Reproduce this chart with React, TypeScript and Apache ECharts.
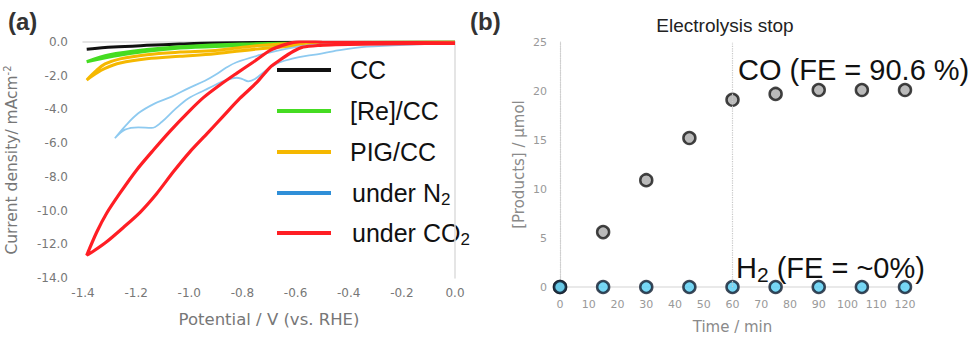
import React, { useEffect, useRef } from "react";
import * as echarts from "echarts";

type Pt = [number, number];

// ---------- Panel (a): cyclic voltammograms (V vs. RHE, mA cm^-2) ----------
const CC_CURVE: Pt[] = [
  [0, 0], [-0.6, -0.02], [-0.9, -0.06], [-1.035, -0.12], [-1.16, -0.2], [-1.286, -0.3], [-1.386, -0.43],
];

const RE_CC_CURVE: Pt[] = [
  [0, -0.02], [-0.4, -0.1], [-0.7, -0.18], [-0.9, -0.26], [-1.035, -0.36], [-1.16, -0.55], [-1.286, -0.84], [-1.386, -1.17],
  [-1.3, -0.76], [-1.16, -0.45], [-1.035, -0.28], [-0.8, -0.12], [-0.5, -0.04], [0, 0],
];

const PIG_CC_CURVE: Pt[] = [
  [0, -0.03], [-0.3, -0.08], [-0.55, -0.2], [-0.734, -0.4], [-0.903, -0.7], [-1.035, -0.85], [-1.16, -1.0], [-1.26, -1.25],
  [-1.317, -1.56], [-1.35, -1.85], [-1.386, -2.25],
  [-1.35, -1.7], [-1.317, -1.3], [-1.26, -1.0], [-1.16, -0.75], [-1.035, -0.6], [-0.903, -0.5], [-0.734, -0.2], [-0.55, -0.06], [0, 0],
];

const N2_CURVE: Pt[] = [
  [0, -0.08], [-0.144, -0.14], [-0.332, -0.28], [-0.459, -0.55], [-0.508, -0.7], [-0.56, -0.82], [-0.608, -0.97],
  [-0.659, -1.2], [-0.709, -1.66], [-0.753, -2.2], [-0.778, -2.33], [-0.8, -2.2], [-0.822, -2.12], [-0.859, -2.25],
  [-0.903, -2.55], [-0.941, -2.85], [-1.004, -3.35], [-1.054, -4.0], [-1.104, -4.75], [-1.142, -5.1], [-1.192, -5.06],
  [-1.242, -5.2], [-1.28, -5.71],
  [-1.242, -5.0], [-1.192, -4.23], [-1.129, -3.64], [-1.066, -3.24], [-1.004, -2.75], [-0.941, -2.3], [-0.903, -1.96],
  [-0.859, -1.5], [-0.822, -1.2], [-0.734, -0.77], [-0.671, -0.52], [-0.6, -0.3], [-0.546, -0.18], [-0.4, -0.1],
  [-0.2, -0.06], [0, -0.04],
];

const CO2_CURVE: Pt[] = [
  [0, -0.08], [-0.2, -0.1], [-0.35, -0.13], [-0.45, -0.16], [-0.508, -0.2], [-0.571, -0.3], [-0.608, -0.55],
  [-0.659, -1.07], [-0.696, -1.5], [-0.746, -2.4], [-0.81, -3.35], [-0.872, -4.4], [-0.934, -5.45], [-0.997, -6.5],
  [-1.06, -7.7], [-1.123, -9.0], [-1.185, -10.1], [-1.248, -11.0], [-1.311, -11.85], [-1.36, -12.4], [-1.386, -12.65],
  [-1.349, -11.3], [-1.311, -10.16], [-1.261, -8.97], [-1.198, -7.59], [-1.135, -6.41],
  [-1.073, -5.3], [-1.0, -4.1], [-0.947, -3.3], [-0.885, -2.55], [-0.822, -1.86], [-0.76, -1.2], [-0.696, -0.5],
  [-0.65, -0.2], [-0.608, -0.02], [-0.56, 0.04], [-0.5, 0.0], [-0.3, -0.03], [0, -0.05],
];

const LEGEND_LABELS = ["CC", "[Re]/CC", "PIG/CC", "under N{sub|2}", "under CO{sub|2}"];
const SERIES_NAMES = ["CC", "[Re]/CC", "PIG/CC", "under N2", "under CO2"];

// ---------- Panel (b): products vs time ----------
const TIME_MIN = [0, 15, 30, 45, 60, 75, 90, 105, 120];
const CO_UMOL = [0, 5.6, 10.9, 15.2, 19.1, 19.7, 20.1, 20.1, 20.1];
const H2_UMOL = [0, 0, 0, 0, 0, 0, 0, 0, 0];
const STOP_TIME = 60;

const CURVES = [CC_CURVE, RE_CC_CURVE, PIG_CC_CURVE, N2_CURVE, CO2_CURVE];
const CURVE_COLORS = ["#111111", "#45dc22", "#f5b800", "#8ecaf0", "#ff1e24"];
const LEGEND_COLORS = ["#111111", "#45dc22", "#f5b800", "#2f8fd8", "#ff1e24"];
const CURVE_WIDTHS = [3, 3, 3, 1.8, 3.2];
const CURVE_SMOOTH = [0.35, 0.35, 0.35, 0.35, 0.25];

const BLACK_FONT = "'Liberation Sans', Arial, sans-serif";
const GRAY_FONT = "'DejaVu Sans', sans-serif";

function fmt1(v: number) {
  return Math.abs(v) < 1e-9 ? "0.0" : v.toFixed(1);
}

export default function App() {
  const ref = useRef<HTMLDivElement>(null);

  useEffect(() => {
    const chart = echarts.init(ref.current!, null, { renderer: "svg" });

    const legendRowY = [70, 111, 152, 193, 233];
    const legendGraphics: any[] = [];
    LEGEND_LABELS.forEach((label, i) => {
      legendGraphics.push({
        type: "line",
        shape: { x1: 277, y1: legendRowY[i], x2: 331, y2: legendRowY[i] },
        style: { stroke: LEGEND_COLORS[i], lineWidth: 4 },
      });
      legendGraphics.push({
        type: "text",
        x: i >= 3 ? 352 : 350,
        y: legendRowY[i],
        style: {
          text: label,
          fill: "#111",
          fontSize: 25,
          fontFamily: BLACK_FONT,
          lineHeight: 30,
          verticalAlign: "middle",
          align: "left",
          rich: {
            sub: { fontSize: 17, lineHeight: 16, verticalAlign: "bottom", fontFamily: BLACK_FONT, fill: "#111" },
          },
        },
      });
    });

    const option: any = {
      animation: false,
      textStyle: { fontFamily: BLACK_FONT },
      grid: [
        { left: 83, top: 42, width: 372, height: 236 },
        { left: 560, top: 42, width: 345, height: 245 },
      ],
      xAxis: [
        {
          gridIndex: 0,
          type: "value",
          min: -1.4,
          max: 0,
          interval: 0.2,
          name: "Potential / V (vs. RHE)",
          nameLocation: "middle",
          nameGap: 33,
          nameTextStyle: { fontFamily: GRAY_FONT, fontSize: 16.5, color: "#777" },
          axisLine: { lineStyle: { color: "#dcdcdc", width: 1.5 } },
          axisTick: { show: false },
          splitLine: { show: false },
          axisLabel: { formatter: fmt1, color: "#777", fontFamily: GRAY_FONT, fontSize: 12, margin: 9 },
        },
        {
          gridIndex: 1,
          type: "value",
          min: 0,
          max: 120,
          interval: 10,
          name: "Time / min",
          nameLocation: "middle",
          nameGap: 32,
          nameTextStyle: { fontFamily: GRAY_FONT, fontSize: 15, color: "#8a8a8a" },
          axisLine: { lineStyle: { color: "#e2e2e2", width: 1.5 } },
          axisTick: { show: false },
          splitLine: { show: false },
          axisLabel: { color: "#999", fontFamily: GRAY_FONT, fontSize: 11, margin: 12 },
        },
      ],
      yAxis: [
        {
          gridIndex: 0,
          type: "value",
          min: -14,
          max: 0,
          interval: 2,
          name: "Current density/ mAcm{sup|-2}",
          nameLocation: "middle",
          nameGap: 61,
          nameTextStyle: {
            fontFamily: GRAY_FONT,
            fontSize: 15.5,
            color: "#777",
            lineHeight: 20,
            rich: { sup: { fontSize: 10, lineHeight: 12, verticalAlign: "top", fontFamily: GRAY_FONT, color: "#777" } },
          },
          axisLine: { show: true, lineStyle: { color: "#dcdcdc", width: 1.5 } },
          axisTick: { show: false },
          splitLine: { show: false },
          axisLabel: { formatter: fmt1, color: "#777", fontFamily: GRAY_FONT, fontSize: 12, margin: 15 },
        },
        {
          gridIndex: 1,
          type: "value",
          min: 0,
          max: 25,
          interval: 5,
          name: "[Products] / μmol",
          nameLocation: "middle",
          nameGap: 34,
          nameTextStyle: { fontFamily: GRAY_FONT, fontSize: 15, color: "#8a8a8a" },
          axisLine: { show: true, lineStyle: { color: "#cfcfcf", width: 1.2, type: "dotted" } },
          axisTick: { show: false },
          splitLine: { show: false },
          axisLabel: { color: "#999", fontFamily: GRAY_FONT, fontSize: 11, margin: 13 },
        },
      ],
      series: [
        ...CURVES.map((curve, i) => ({
          name: SERIES_NAMES[i],
          type: "line",
          xAxisIndex: 0,
          yAxisIndex: 0,
          data: curve,
          showSymbol: false,
          smooth: CURVE_SMOOTH[i],
          lineStyle: { color: CURVE_COLORS[i], width: CURVE_WIDTHS[i] },
          itemStyle: { color: CURVE_COLORS[i] },
        })),
        {
          name: "CO",
          type: "scatter",
          xAxisIndex: 1,
          yAxisIndex: 1,
          data: TIME_MIN.map((t, i) => [t, CO_UMOL[i]]),
          symbolSize: 12,
          itemStyle: { color: "#a9a9a9", borderColor: "#151515", borderWidth: 2.5 },
          markLine: {
            silent: true,
            symbol: ["none", "none"],
            label: { show: false },
            lineStyle: { type: "dotted", color: "#c8c8c8", width: 1.2 },
            data: [{ xAxis: STOP_TIME }],
          },
          z: 3,
        },
        {
          name: "H2",
          type: "scatter",
          xAxisIndex: 1,
          yAxisIndex: 1,
          data: TIME_MIN.map((t, i) => [t, H2_UMOL[i]]),
          symbolSize: 12,
          itemStyle: { color: "#55cdf2", borderColor: "#101c2e", borderWidth: 2.5 },
          z: 4,
        },
      ],
      graphic: [
        {
          type: "text",
          left: 8,
          top: 9,
          style: { text: "(a)", fontSize: 24, fontWeight: "bold", fontFamily: BLACK_FONT, fill: "#333" },
        },
        {
          type: "text",
          left: 470,
          top: 9,
          style: { text: "(b)", fontSize: 24, fontWeight: "bold", fontFamily: BLACK_FONT, fill: "#333" },
        },
        {
          type: "text",
          x: 725,
          y: 25,
          style: {
            text: "Electrolysis stop",
            fontSize: 19,
            fontFamily: BLACK_FONT,
            fill: "#222",
            align: "center",
            verticalAlign: "middle",
          },
        },
        {
          type: "text",
          x: 738,
          y: 70,
          style: {
            text: "CO (FE = 90.6 %)",
            fontSize: 29,
            fontFamily: BLACK_FONT,
            fill: "#111",
            align: "left",
            verticalAlign: "middle",
          },
          z: 10,
        },
        {
          type: "text",
          x: 736,
          y: 268,
          style: {
            text: "H{sub|2} (FE = ~0%)",
            fontSize: 29,
            lineHeight: 34,
            fontFamily: BLACK_FONT,
            fill: "#111",
            align: "left",
            verticalAlign: "middle",
            rich: {
              sub: { fontSize: 21, lineHeight: 20, verticalAlign: "bottom", fontFamily: BLACK_FONT, fill: "#111" },
            },
          },
          z: 10,
        },
        ...legendGraphics,
      ],
    };

    chart.setOption(option);
    return () => chart.dispose();
  }, []);

  return (
    <div
      ref={ref}
      style={{ position: "absolute", left: 0, top: 0, width: 980, height: 340, background: "#fff" }}
    />
  );
}
